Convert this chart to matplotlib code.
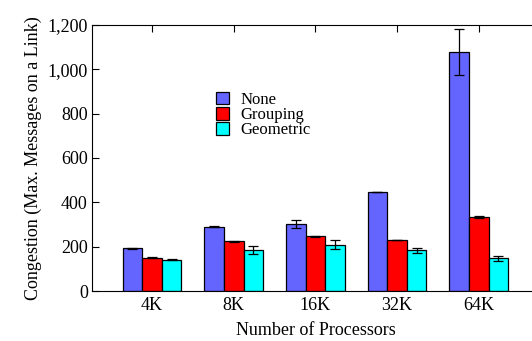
import numpy as np
import matplotlib.pyplot as plt

plt.rcParams['font.family'] = ['Liberation Serif', 'DejaVu Serif']

# ----------------- data -----------------
procs = ['4K', '8K', '16K', '32K', '64K']
series = ['None', 'Grouping', 'Geometric']
none_vals = [193, 290, 303, 447, 1077]
none_err = [2, 2, 17, 1, 104]
group_vals = [150, 224, 246, 229, 333]
group_err = [3, 3, 3, 1, 5]
geo_vals = [141, 183, 209, 183, 147]
geo_err = [3, 18, 21, 12, 11]
colors = ['#6464ff', '#ff0000', '#00ffff']

# ----------------- figure -----------------
fig = plt.figure(figsize=(5.32, 3.41), dpi=100)
# right edge of the axes sits just outside the picture
ax = fig.add_axes([92 / 532, 50 / 341, 448 / 532, 266 / 341])

x = np.arange(1, len(procs) + 1)
w = 0.24
for i, (vals, errs) in enumerate([(none_vals, none_err),
                                  (group_vals, group_err),
                                  (geo_vals, geo_err)]):
    ax.bar(x + (i - 1) * w, vals, w, color=colors[i], edgecolor='black',
           linewidth=0.9, label=series[i], zorder=2,
           yerr=errs, error_kw=dict(ecolor='black', elinewidth=0.9,
                                    capsize=3.5, capthick=0.9))

ax.set_xlim(0.265, 5.75)
ax.set_ylim(0, 1200)
ax.set_yticks(range(0, 1201, 200))
ax.set_yticklabels([f'{v:,}' for v in range(0, 1201, 200)])
ax.set_xticks(x)
ax.set_xticklabels(procs)

ax.tick_params(axis='y', direction='in', right=True, length=5, labelsize=13, pad=3)
ax.tick_params(axis='x', direction='in', top=True, bottom=False, length=5,
               labelsize=13, pad=4)

ax.set_xlabel('Number of Processors', fontsize=13, labelpad=6)
ax.set_ylabel('Congestion (Max. Messages on a Link)', fontsize=13, labelpad=4)

ax.legend(loc='upper left', bbox_to_anchor=(0.262, 0.775), frameon=False,
          fontsize=12, handlelength=0.8, handleheight=0.8, labelspacing=-0.05,
          handletextpad=0.65, borderaxespad=0)

fig.savefig('out.png', dpi=100)
